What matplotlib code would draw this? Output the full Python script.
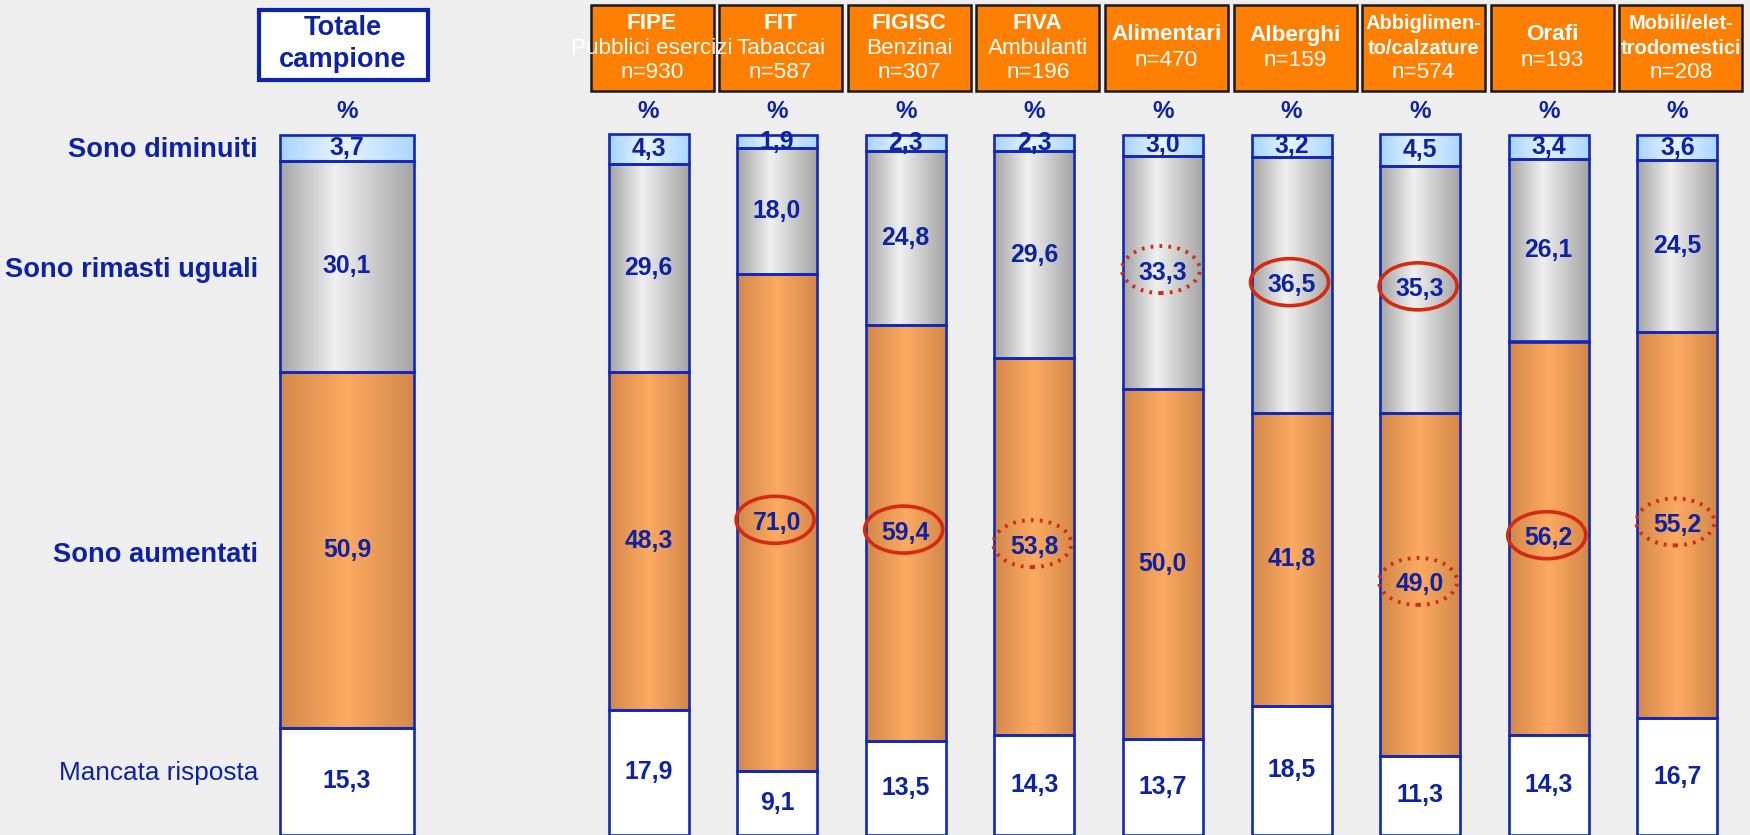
import matplotlib
matplotlib.use("Agg")
import matplotlib.pyplot as plt
import numpy as np
from matplotlib.patches import Rectangle, Ellipse
from matplotlib.colors import LinearSegmentedColormap
from matplotlib import font_manager

# data (percent), stacked bottom -> top
groups = ["Totale campione", "FIPE", "FIT", "FIGISC", "FIVA", "Alimentari",
          "Alberghi", "Abbigliamento/calzature", "Orafi", "Mobili/elettrodomestici"]
mancata = [15.3, 17.9, 9.1, 13.5, 14.3, 13.7, 18.5, 11.3, 14.3, 16.7]
aumentati = [50.9, 48.3, 71.0, 59.4, 53.8, 50.0, 41.8, 49.0, 56.2, 55.2]
uguali = [30.1, 29.6, 18.0, 24.8, 29.6, 33.3, 36.5, 35.3, 26.1, 24.5]
diminuiti = [3.7, 4.3, 1.9, 2.3, 2.3, 3.0, 3.2, 4.5, 3.4, 3.6]

row_labels = ["Sono diminuiti", "Sono rimasti uguali", "Sono aumentati", "Mancata risposta"]

# header boxes of the sector columns
head_titles = [["FIPE"], ["FIT"], ["FIGISC"], ["FIVA"], ["Alimentari"], ["Alberghi"],
               ["Abbiglimen-", "to/calzature"], ["Orafi"], ["Mobili/elet-", "trodomestici"]]
head_subs = ["Pubblici esercizi", "Tabaccai", "Benzinai", "Ambulanti", "", "", "", "", ""]
n_sample = [930, 587, 307, 196, 470, 159, 574, 193, 208]

# circled values: (column, series, style)
highlights = [(2, "aumentati", "solid"), (3, "aumentati", "solid"), (4, "aumentati", "dotted"),
              (5, "uguali", "dotted"), (6, "uguali", "solid"), (7, "uguali", "solid"),
              (7, "aumentati", "dotted"), (8, "aumentati", "solid"), (9, "aumentati", "dotted")]

W, H = 1750, 835
PX = 7.0  # pixel per punto percentuale
BLUE = "#0E22A4"
EDGE = "#1228B4"
BG = "#EEEEEE"
RED = "#D42A10"

names = [f.name for f in font_manager.fontManager.ttflist]
FONT = "Liberation Sans" if "Liberation Sans" in names else "DejaVu Sans"
plt.rcParams["font.family"] = FONT


def ty(p):
    # pixel from top -> data y
    return (H - p) / PX


def fmt(v):
    return f"{v:.1f}".replace(".", ",")


fig = plt.figure(figsize=(W / 100, H / 100), dpi=100)
fig.patch.set_facecolor(BG)
ax = fig.add_axes([0, 0, 1, 1])
ax.set_facecolor(BG)
ax.axis("off")

xpos = [347] + [648.5 + 128.6 * i for i in range(9)]
widths = [134] + [80] * 9

cm_blue = LinearSegmentedColormap.from_list("b", [(0, "#A6D3FF"), (0.45, "#E8F4FF"), (1, "#ACD6FF")])
cm_gray = LinearSegmentedColormap.from_list("g", [(0, "#A4A4A4"), (0.42, "#F0F0F0"), (1, "#A4A4A4")])
cm_orange = LinearSegmentedColormap.from_list("o", [(0, "#D2884A"), (0.5, "#FDAA62"), (1, "#D2884A")])
grad = np.linspace(0, 1, 256).reshape(1, -1)

series = {"mancata": mancata, "aumentati": aumentati, "uguali": uguali, "diminuiti": diminuiti}
order = ["mancata", "aumentati", "uguali", "diminuiti"]
fills = {"mancata": None, "aumentati": cm_orange, "uguali": cm_gray, "diminuiti": cm_blue}

bottoms = np.zeros(len(groups))
label_pos = {}
for key in order:
    vals = np.array(series[key])
    face = "white" if fills[key] is None else "none"
    bars = ax.bar(xpos, vals, width=widths, bottom=bottoms, facecolor=face,
                  edgecolor=EDGE, linewidth=1.9, zorder=2)
    for i, (b, v) in enumerate(zip(bars, vals)):
        if fills[key] is not None:
            x0, y0 = b.get_x(), b.get_y()
            im = ax.imshow(grad, cmap=fills[key], aspect="auto", interpolation="bilinear",
                           extent=(x0, x0 + b.get_width(), y0, y0 + b.get_height()), zorder=1)
            im.set_clip_path(b)
        yc = bottoms[i] + v / 2
        label_pos[(i, key)] = (xpos[i], yc)
        ax.text(xpos[i], yc, fmt(v), ha="center", va="center", fontsize=17.8,
                fontweight="bold", color=BLUE, zorder=4)
    bottoms = bottoms + vals

for i, key, style in highlights:
    x, y = label_pos[(i, key)]
    ls = "-" if style == "solid" else (0, (0.7, 1.6))
    lw = 2.6 if style == "solid" else 2.8
    ax.add_patch(Ellipse((x - 2, y + 3 / PX), 78, 47 / PX, fill=False, edgecolor=RED,
                         linewidth=lw, linestyle=ls, zorder=5))

# "%" above each bar
for x in xpos:
    ax.text(x, ty(111), "%", ha="center", va="center", fontsize=17.5, fontweight="bold", color=BLUE)

# total box
ax.add_patch(Rectangle((343 - 84.5, ty(80)), 169, 70 / PX, facecolor="white",
                       edgecolor="#0A24B0", linewidth=3, zorder=2))
ax.text(343, ty(28), "Totale", ha="center", va="center", fontsize=19.6, fontweight="bold", color=BLUE, zorder=3)
ax.text(343, ty(60), "campione", ha="center", va="center", fontsize=19.6, fontweight="bold", color=BLUE, zorder=3)

# sector header boxes
for i in range(9):
    cx = xpos[i + 1] + 3.5
    box = Rectangle((cx - 61.5, ty(91)), 123, 86 / PX, facecolor="#FF7F00",
                    edgecolor="#1A1A1A", linewidth=1.8, zorder=2)
    ax.add_patch(box)
    lines = [(t, "bold", 16.2 if len(head_titles[i]) == 1 else 14.5) for t in head_titles[i]]
    if head_subs[i]:
        lines.append((head_subs[i], "normal", 16.2))
    lines.append((f"n={n_sample[i]}", "normal", 16.2))
    step = 24.5 if len(lines) == 3 else 26
    start = 48 - step * (len(lines) - 1) / 2
    for k, (t, w, s) in enumerate(lines):
        txt = ax.text(cx, ty(start + k * step), t, ha="center", va="center", fontsize=s,
                      fontweight=w, color="white", zorder=3)
        txt.set_clip_path(box)

# row labels
row_y = [150, 270, 555, 773]
for k, (lab, y) in enumerate(zip(row_labels, row_y)):
    if k < 3:
        ax.text(258, ty(y), lab, ha="right", va="center", fontsize=19.6, fontweight="bold", color=BLUE)
    else:
        ax.text(258, ty(y), lab, ha="right", va="center", fontsize=18.8, color=BLUE)

ax.set_xlim(0, W)
ax.set_ylim(0, H / PX)

fig.savefig("out.png", dpi=100, facecolor=BG)
